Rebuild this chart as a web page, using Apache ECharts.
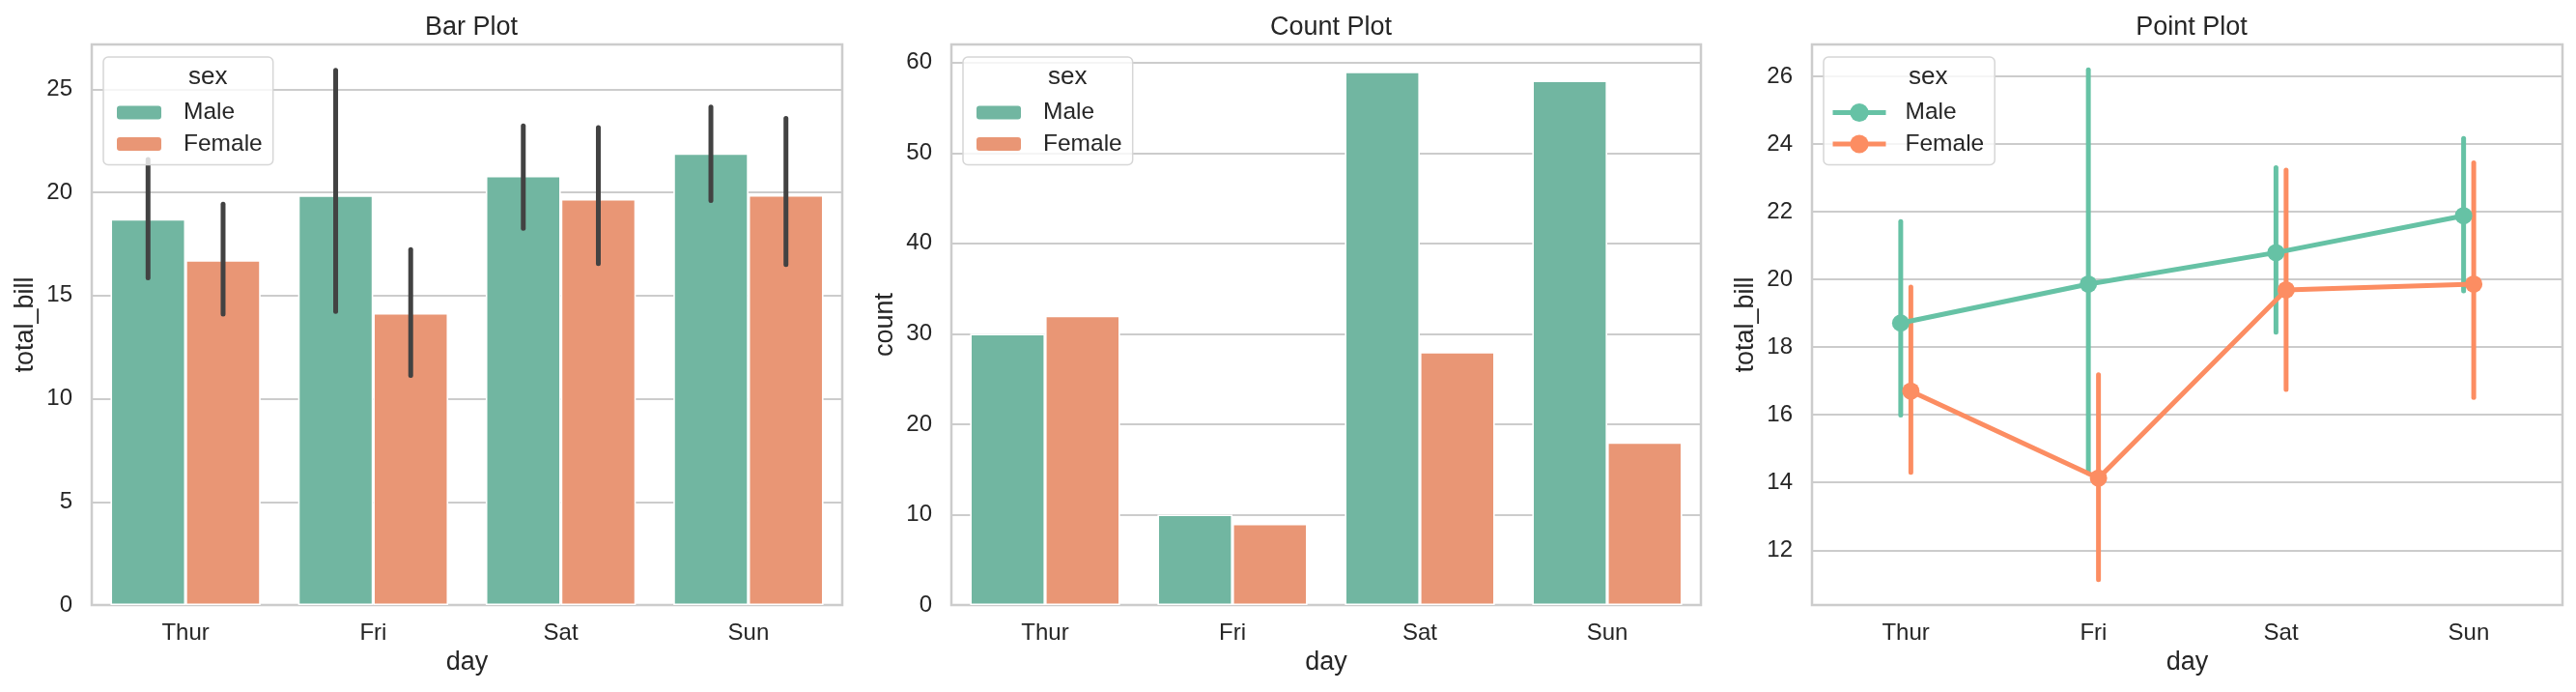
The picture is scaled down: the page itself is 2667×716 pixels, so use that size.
<!DOCTYPE html>
<html>
<head>
<meta charset="utf-8">
<script src="https://cdn.jsdelivr.net/npm/echarts@6/dist/echarts.min.js"></script>
<style>
  html, body { margin: 0; padding: 0; background: #fff; }
  #chart { width: 2667px; height: 716px; }
</style>
</head>
<body>
<div id="chart"></div>
<script>
// ---- data ----
const days = ["Thur", "Fri", "Sat", "Sun"];

// bar plot: mean total_bill + 95% CI
const barMale = [18.71, 19.86, 20.80, 21.89];
const barFemale = [16.72, 14.15, 19.68, 19.87];
const barMaleLow = [15.86, 14.23, 18.26, 19.60];
const barMaleHigh = [21.60, 25.92, 23.22, 24.14];
const barFemaleLow = [14.10, 11.13, 16.55, 16.50];
const barFemaleHigh = [19.43, 17.23, 23.14, 23.59];

// count plot
const countMale = [30, 10, 59, 58];
const countFemale = [32, 9, 28, 18];

// point plot: mean total_bill + CI
const ptMale = [18.71, 19.86, 20.79, 21.88];
const ptFemale = [16.70, 14.13, 19.69, 19.86];
const ptMaleLow = [15.99, 14.27, 18.44, 19.66];
const ptMaleHigh = [21.71, 26.19, 23.30, 24.16];
const ptFemaleLow = [14.30, 11.13, 16.75, 16.51];
const ptFemaleHigh = [19.77, 17.18, 23.23, 23.44];

// ---- style ----
const FONT = "Liberation Sans, Arial, sans-serif";
const TXT = "#262626";
const GRIDC = "#cccccc";
const MALE_BAR = "#71b6a1";
const FEMALE_BAR = "#e99675";
const MALE_PT = "#66c2a5";
const FEMALE_PT = "#fc8d62";
const ERR = "#424242";
const DODGE = 0.027;

const grids = [
  { left: 95, top: 46, width: 777, height: 580 },
  { left: 985, top: 46, width: 776, height: 580 },
  { left: 1876, top: 46, width: 777, height: 580 },
].map((g) => ({ ...g, show: true, borderColor: GRIDC, borderWidth: 2.5, backgroundColor: "#fff" }));

function catAxis(gridIndex) {
  return {
    type: "category",
    gridIndex,
    data: days,
    name: "day",
    nameLocation: "middle",
    nameGap: 46,
    nameTextStyle: { color: TXT, fontSize: 27, fontFamily: FONT },
    axisLine: { show: false },
    axisTick: { show: false },
    axisLabel: { color: TXT, fontSize: 24, fontFamily: FONT, margin: 17 },
    splitLine: { show: false },
  };
}

function valAxis(gridIndex, name, min, max, interval) {
  const ax = {
    type: "value",
    gridIndex,
    min,
    max,
    name,
    nameLocation: "middle",
    nameGap: 55,
    nameTextStyle: { color: TXT, fontSize: 27, fontFamily: FONT },
    axisLine: { show: false },
    axisTick: { show: false },
    axisLabel: { color: TXT, fontSize: 24, fontFamily: FONT, margin: 20, showMaxLabel: false },
    splitLine: { show: true, lineStyle: { color: GRIDC, width: 2 } },
  };
  if (interval) ax.interval = interval;
  else { ax.splitNumber = 8; ax.axisLabel.showMinLabel = false; }
  return ax;
}

// vertical CI lines, placed through the axis scales
function errSeries(id, xi, yi, lows, highs, color, shift, xOffset) {
  return {
    type: "custom",
    name: id,
    xAxisIndex: xi,
    yAxisIndex: yi,
    encode: { x: 0, y: [1, 2] },
    data: lows.map((lo, i) => [i + xOffset, lo, highs[i]]),
    renderItem: (params, api) => {
      const x = api.value(0);
      const p1 = api.coord([x, api.value(1)]);
      const p2 = api.coord([x, api.value(2)]);
      const dx = shift * api.size([1, 0])[0];
      return {
        type: "line",
        shape: { x1: p1[0] + dx, y1: p1[1], x2: p2[0] + dx, y2: p2[1] },
        style: { stroke: color, lineWidth: 5, lineCap: "round" },
      };
    },
    z: 3,
  };
}

function barSeries(name, xi, yi, values, color) {
  return {
    type: "bar",
    name,
    xAxisIndex: xi,
    yAxisIndex: yi,
    data: values,
    barCategoryGap: "20%",
    barGap: "0%",
    itemStyle: { color, borderColor: "#fff", borderWidth: 1.6 },
    emphasis: { disabled: true },
  };
}

// legend rows ~34px apart (text row is ~26px tall)
function legendFor(gridIdx, names, padLeft, itemW, itemH, textGap) {
  const g = grids[gridIdx];
  return {
    orient: "vertical",
    left: g.left + 12,
    top: g.top + 13,
    data: names,
    itemWidth: itemW,
    itemHeight: itemH,
    itemGap: 7.5,
    padding: [45, 11, 9, padLeft],
    backgroundColor: "rgba(255,255,255,0.8)",
    borderColor: "#d6d6d6",
    borderWidth: 1.5,
    borderRadius: 5,
    lineStyle: { width: 5 },
    textStyle: {
      color: TXT,
      fontSize: 24.5,
      fontFamily: FONT,
      padding: [0, 0, 0, textGap - 5],
    },
    formatter: (n) => n.split("·")[0],
    selectedMode: false,
  };
}

const option = {
  animation: false,
  backgroundColor: "#fff",
  textStyle: { fontFamily: FONT },
  title: [
    { text: "Bar Plot", left: 483, textAlign: "center", top: 10 },
    { text: "Count Plot", left: 1373, textAlign: "center", top: 10 },
    { text: "Point Plot", left: 2264, textAlign: "center", top: 10 },
  ].map((t) => ({ ...t, textStyle: { color: TXT, fontSize: 27, fontWeight: "normal", fontFamily: FONT } })),
  grid: grids,
  xAxis: [
    catAxis(0),
    catAxis(1),
    catAxis(2),
    { type: "value", gridIndex: 2, min: -0.5, max: 3.5, show: false },
  ],
  yAxis: [
    valAxis(0, "total_bill", 0, 27.17, 5),
    valAxis(1, "count", 0, 62, 10),
    valAxis(2, "total_bill", 10.38, 26.94, null),
  ],
  legend: [
    legendFor(0, ["Male", "Female"], 12, 48, 16, 22),
    legendFor(1, ["Male", "Female"], 12, 48, 16, 22),
    legendFor(2, ["Male·p", "Female·p"], 7, 55, 24, 20),
  ],
  graphic: [0, 1, 2].map((gi) => ({
    type: "text",
    left: grids[gi].left + 12 + 88,
    top: 67,
    z: 100,
    style: { text: "sex", fill: TXT, font: "26px " + FONT, textAlign: "center" },
  })),
  series: [
    // bar plot
    barSeries("Male", 0, 0, barMale, MALE_BAR),
    barSeries("Female", 0, 0, barFemale, FEMALE_BAR),
    errSeries("ci-bm", 0, 0, barMaleLow, barMaleHigh, ERR, -0.2, 0),
    errSeries("ci-bf", 0, 0, barFemaleLow, barFemaleHigh, ERR, 0.2, 0),
    // count plot
    barSeries("Male", 1, 1, countMale, MALE_BAR),
    barSeries("Female", 1, 1, countFemale, FEMALE_BAR),
    // point plot
    errSeries("ci-pm", 3, 2, ptMaleLow, ptMaleHigh, MALE_PT, 0, -DODGE),
    {
      type: "line",
      name: "Male·p",
      xAxisIndex: 3,
      yAxisIndex: 2,
      data: ptMale.map((v, i) => [i - DODGE, v]),
      symbol: "circle",
      symbolSize: 18,
      color: MALE_PT,
      lineStyle: { width: 5, color: MALE_PT },
      itemStyle: { color: MALE_PT },
      z: 3,
    },
    errSeries("ci-pf", 3, 2, ptFemaleLow, ptFemaleHigh, FEMALE_PT, 0, DODGE),
    {
      type: "line",
      name: "Female·p",
      xAxisIndex: 3,
      yAxisIndex: 2,
      data: ptFemale.map((v, i) => [i + DODGE, v]),
      symbol: "circle",
      symbolSize: 18,
      color: FEMALE_PT,
      lineStyle: { width: 5, color: FEMALE_PT },
      itemStyle: { color: FEMALE_PT },
      z: 3,
    },
  ],
};

const chart = echarts.init(document.getElementById("chart"), null, { renderer: "canvas" });
chart.setOption(option);
</script>
</body>
</html>
